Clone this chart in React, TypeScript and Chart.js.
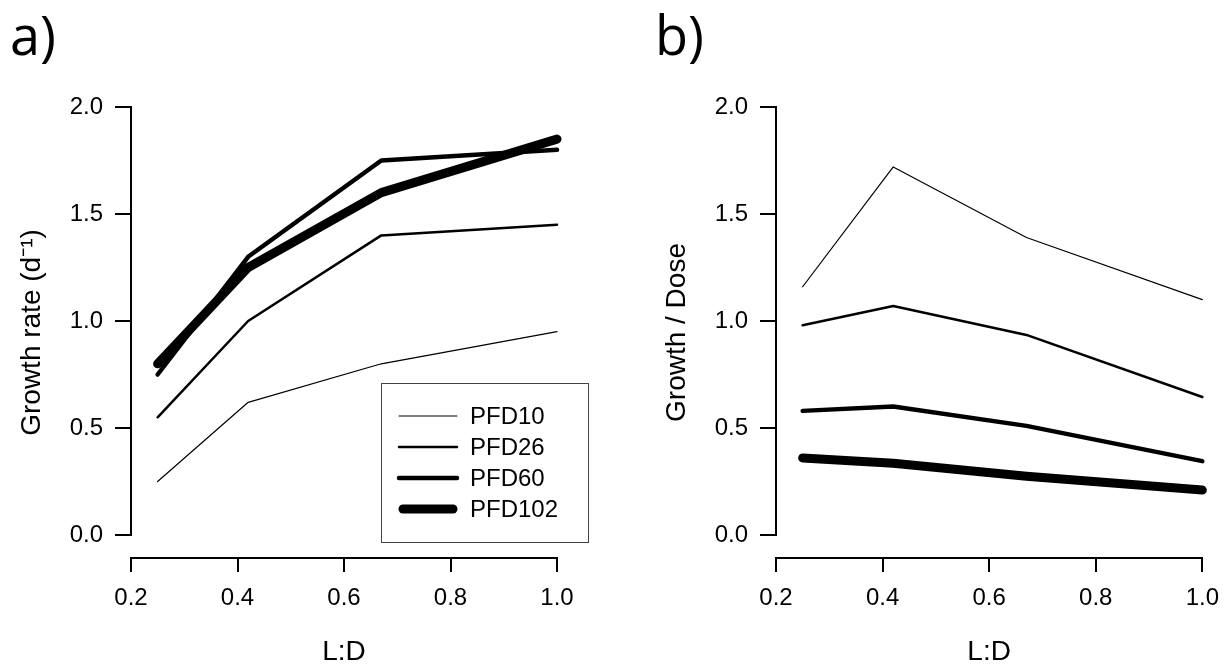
import React, { useEffect, useRef } from "react";
import { Chart, registerables } from "chart.js";

Chart.register(...registerables);

// ---- data ----
const LD_VALUES = [0.25, 0.42, 0.67, 1.0];
const SERIES_LABELS = ["PFD10", "PFD26", "PFD60", "PFD102"];

const GROWTH_PFD10 = [0.25, 0.62, 0.8, 0.95];
const GROWTH_PFD26 = [0.55, 1.0, 1.4, 1.45];
const GROWTH_PFD60 = [0.75, 1.3, 1.75, 1.8];
const GROWTH_PFD102 = [0.8, 1.25, 1.6, 1.85];

const DOSE_PFD10 = [1.16, 1.72, 1.39, 1.1];
const DOSE_PFD26 = [0.98, 1.07, 0.935, 0.645];
const DOSE_PFD60 = [0.58, 0.6, 0.51, 0.345];
const DOSE_PFD102 = [0.36, 0.335, 0.275, 0.21];

const X_TICKS = [0.2, 0.4, 0.6, 0.8, 1.0];
const Y_TICKS = [0, 0.5, 1.0, 1.5, 2.0];

// ---- styles ----
const LINE_WIDTHS = [1.2, 2.5, 4.5, 9];
const SANS = "'Liberation Sans', Arial, Helvetica, sans-serif";
const CANVAS_H = 666;

type PanelProps = {
  left: number;
  width: number;
  plotRight: number;
  letter: string;
  yTitle: string;
  series: number[][];
  showLegend: boolean;
};

function Panel({ left, width, plotRight, letter, yTitle, series, showLegend }: PanelProps) {
  const ref = useRef<HTMLCanvasElement | null>(null);

  useEffect(() => {
    if (!ref.current) return;

    const decor = {
      id: "decor",
      afterDraw(chart: any) {
        const ctx = chart.ctx as CanvasRenderingContext2D;
        const ys = chart.scales.y;
        const ca = chart.chartArea;
        ctx.save();
        // y axis line from 0 to 2
        ctx.strokeStyle = "#000";
        ctx.lineWidth = 2;
        ctx.lineCap = "butt";
        ctx.beginPath();
        const xl = Math.round(ca.left);
        ctx.moveTo(xl, ys.getPixelForValue(Y_TICKS[Y_TICKS.length - 1]) - 1);
        ctx.lineTo(xl, ys.getPixelForValue(Y_TICKS[0]) + 1);
        ctx.stroke();

        // panel letter
        ctx.fillStyle = "#000";
        ctx.font = "54px 'Open Sans', 'Noto Sans', sans-serif";
        ctx.textBaseline = "alphabetic";
        ctx.textAlign = "left";
        ctx.fillText(letter, 10, 55);

        if (showLegend) {
          const bx = 381, by = 383, bw = 207, bh = 159;
          ctx.strokeStyle = "#444";
          ctx.lineWidth = 1;
          ctx.strokeRect(bx + 0.5, by + 0.5, bw, bh);
          ctx.font = "24px " + SANS;
          ctx.textBaseline = "middle";
          chart.data.datasets.forEach((ds: any, i: number) => {
            const yy = 416 + i * 31;
            ctx.strokeStyle = "#000";
            ctx.lineWidth = ds.borderWidth;
            ctx.lineCap = "round";
            ctx.beginPath();
            ctx.moveTo(399 + (i === 3 ? 4 : 0), yy);
            ctx.lineTo(457 - (i === 3 ? 4 : 0), yy);
            ctx.stroke();
            ctx.fillStyle = "#000";
            ctx.fillText(ds.label, 470, yy + 1);
          });
        }
        ctx.restore();
      },
    };

    const chart = new Chart(ref.current, {
      type: "line",
      data: {
        datasets: series.map((s, i) => ({
          label: SERIES_LABELS[i],
          data: LD_VALUES.map((x, j) => ({ x, y: s[j] })),
          borderColor: "#000",
          backgroundColor: "#000",
          borderWidth: LINE_WIDTHS[i],
          pointRadius: 0,
          tension: 0,
          borderCapStyle: "round",
          borderJoinStyle: "round",
          clip: false,
        })),
      },
      options: {
        responsive: false,
        animation: false,
        devicePixelRatio: 1,
        layout: { padding: { top: 107, right: width - plotRight, left: 0, bottom: 0 } },
        plugins: {
          legend: { display: false },
          tooltip: { enabled: false },
        },
        scales: {
          x: {
            type: "linear",
            min: 0.2,
            max: 1.0,
            afterBuildTicks: (s: any) => {
              s.ticks = X_TICKS.map((v) => ({ value: v }));
            },
            afterFit: (s: any) => {
              s.height = CANVAS_H - 558;
            },
            ticks: {
              callback: (v: any) => Number(v).toFixed(1),
              font: { family: SANS, size: 24 },
              color: "#000",
              padding: 12,
              maxRotation: 0,
            },
            grid: {
              drawOnChartArea: false,
              drawTicks: true,
              tickLength: 14,
              color: "#000",
              lineWidth: 2,
            },
            border: { display: true, color: "#000", width: 2 },
            title: {
              display: true,
              text: "L:D",
              color: "#000",
              font: { family: SANS, size: 28, lineHeight: 1 },
              padding: { top: 0, bottom: 0 },
            },
          },
          y: {
            type: "linear",
            min: -0.1075,
            max: 2.0,
            afterBuildTicks: (s: any) => {
              s.ticks = Y_TICKS.map((v) => ({ value: v }));
            },
            afterFit: (s: any) => {
              s.width = 131;
            },
            ticks: {
              callback: (v: any) => Number(v).toFixed(1),
              font: { family: SANS, size: 24 },
              color: "#000",
              padding: 12,
            },
            grid: {
              drawOnChartArea: false,
              drawTicks: true,
              tickLength: 16,
              color: "#000",
              lineWidth: 2,
            },
            border: { display: false },
            title: {
              display: true,
              text: yTitle,
              color: "#000",
              font: { family: SANS, size: 28, lineHeight: 1.2 },
              padding: { top: 15, bottom: 0 },
            },
          },
        },
      } as any,
      plugins: [decor],
    });
    return () => chart.destroy();
  }, []);

  return (
    <canvas
      ref={ref}
      width={width}
      height={CANVAS_H}
      style={{ position: "absolute", left, top: 0, width, height: CANVAS_H, display: "block" }}
    />
  );
}

export default function App() {
  return (
    <div style={{ position: "absolute", left: 0, top: 0, width: 1231, height: 666, background: "#fff" }}>
      <Panel
        left={0}
        width={640}
        plotRight={557}
        letter="a)"
        yTitle="Growth rate (d⁻¹)"
        series={[GROWTH_PFD10, GROWTH_PFD26, GROWTH_PFD60, GROWTH_PFD102]}
        showLegend={true}
      />
      <Panel
        left={645}
        width={586}
        plotRight={560}
        letter="b)"
        yTitle="Growth / Dose"
        series={[DOSE_PFD10, DOSE_PFD26, DOSE_PFD60, DOSE_PFD102]}
        showLegend={false}
      />
    </div>
  );
}
